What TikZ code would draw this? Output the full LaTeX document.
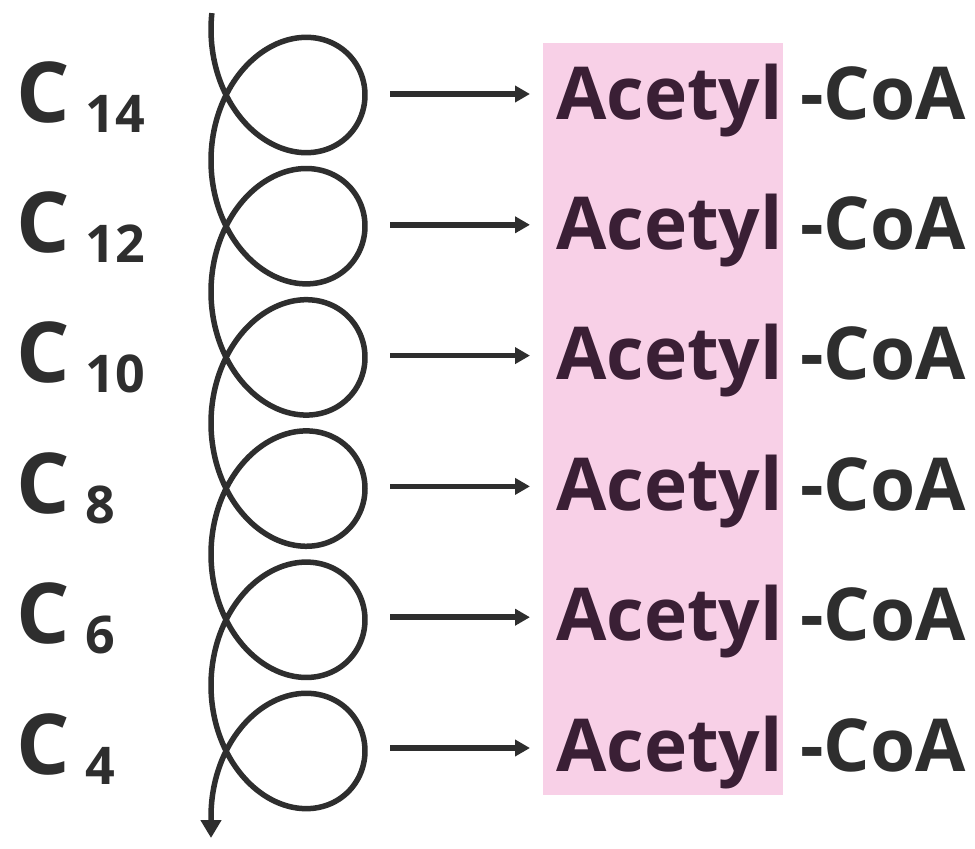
\documentclass[tikz,border=0pt]{standalone}
\usepackage{fontspec}
\setmainfont{Open Sans}
\usetikzlibrary{arrows.meta}
\definecolor{ink}{HTML}{2E2E2E}
\definecolor{plum}{HTML}{3A1F35}
\definecolor{pinkbg}{HTML}{F8D0E7}
\tikzset{
  coil/.style={draw=ink, line width=5.5pt},
  rowarrow/.style={draw=ink, line width=5.5pt, -{Triangle[length=15pt,width=16pt]}},
  clabel/.style={text=ink, inner sep=0pt, font=\bfseries\fontsize{84}{90}\selectfont},
  acetyl/.style={text=plum, inner sep=0pt, font=\bfseries\fontsize{73}{80}\selectfont},
  coa/.style={text=ink, inner sep=0pt, font=\bfseries\fontsize{73}{80}\selectfont}
}
\newcommand{\subfont}{\bfseries\fontsize{52}{56}\selectfont}
\begin{document}
\begin{tikzpicture}[x=1pt,y=-1pt]
\fill[white] (0,0) rectangle (975,849);
\useasboundingbox (0,0) rectangle (975,849);
\fill[pinkbg] (543,43) rectangle (783,795);
% coil
\coordinate (coilend) at (211,838);
\draw[coil, -{Triangle[length=18pt,width=20pt]}]
  plot[domain=-0.15:37.699, samples=900, variable=\t]
  ({288-77*cos(\t r)},{29.4+20.88*\t+88*sin(\t r)}) -- (coilend);
\foreach \k/\sub in {0/14,1/12,2/10,3/8,4/6,5/4} {
  \pgfmathsetmacro\ty{92+130.4*\k}
  \pgfmathsetmacro\ay{94+130.8*\k}
  \node[clabel, anchor=base west] (c\k) at (16,\ty+30) {C\hspace{16pt}\raisebox{-10pt}{\subfont\sub}};
  \node[acetyl, anchor=base west] (a\k) at (556,\ty+27) {Acetyl};
  \node[coa, anchor=base west] (o\k) at (800,\ty+27) {-CoA};
  \coordinate (s\k) at (390,\ay);
  \coordinate (t\k) at (530,\ay);
  \draw[rowarrow] (s\k) -- (t\k);
}
\end{tikzpicture}
\end{document}
